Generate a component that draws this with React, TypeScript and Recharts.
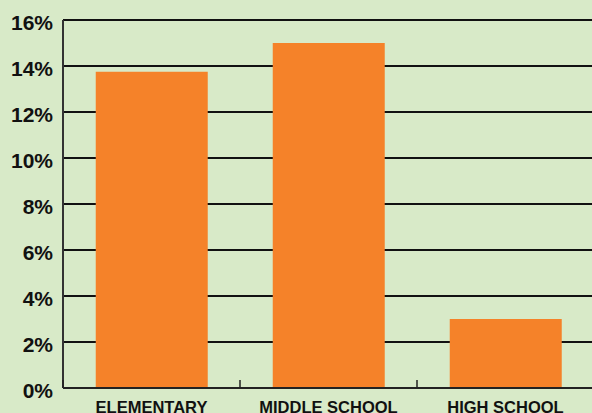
import React from "react";
import { BarChart, Bar, XAxis, YAxis, CartesianGrid } from "recharts";

const categories = ["ELEMENTARY", "MIDDLE SCHOOL", "HIGH SCHOOL"];
const values = [13.75, 15.0, 3.0];
const yTicks = [0, 2, 4, 6, 8, 10, 12, 14, 16];

const data = categories.map((c, i) => ({ name: c, value: values[i] }));

const FONT = "'Liberation Sans', Arial, Helvetica, sans-serif";

const YTick = (props: any) => {
  const { x, y, payload } = props;
  return (
    <text x={x} y={y + 10} textAnchor="end" fontFamily={FONT} fontWeight="bold" fontSize={21} fill="#111">
      {payload.value}%
    </text>
  );
};

const XTick = (props: any) => {
  const { x, y, payload } = props;
  const off = payload.offset || 0;
  return (
    <g>
      <line x1={x - off} x2={x - off} y1={y - 8} y2={y} stroke="#222" strokeWidth={1.5} />
      <text x={x} y={y + 24.5} textAnchor="middle" fontFamily={FONT} fontWeight="bold" fontSize={16.5} fill="#111">
        {payload.value}
      </text>
    </g>
  );
};

export default function App() {
  return (
    <div style={{ position: "absolute", left: 0, top: 0, width: 592, height: 413, overflow: "hidden", background: "#d8eac8" }}>
      <BarChart
        width={600}
        height={413}
        data={data}
        margin={{ top: 20, right: 6, bottom: 0, left: 0 }}
        barCategoryGap="18.5%"
      >
        <CartesianGrid vertical={false} stroke="#111" strokeWidth={1.8} />
        <XAxis
          dataKey="name"
          height={25}
          tickSize={0}
          tickMargin={0}
          tickLine={false}
          axisLine={{ stroke: "#222", strokeWidth: 2 }}
          tick={<XTick />}
          interval={0}
        />
        <YAxis
          domain={[0, 16]}
          ticks={yTicks}
          width={63}
          tickSize={0}
          tickMargin={10}
          tickLine={false}
          axisLine={{ stroke: "#333", strokeWidth: 2 }}
          tick={<YTick />}
          interval={0}
        />
        <Bar dataKey="value" fill="#f58229" isAnimationActive={false} />
      </BarChart>
    </div>
  );
}
